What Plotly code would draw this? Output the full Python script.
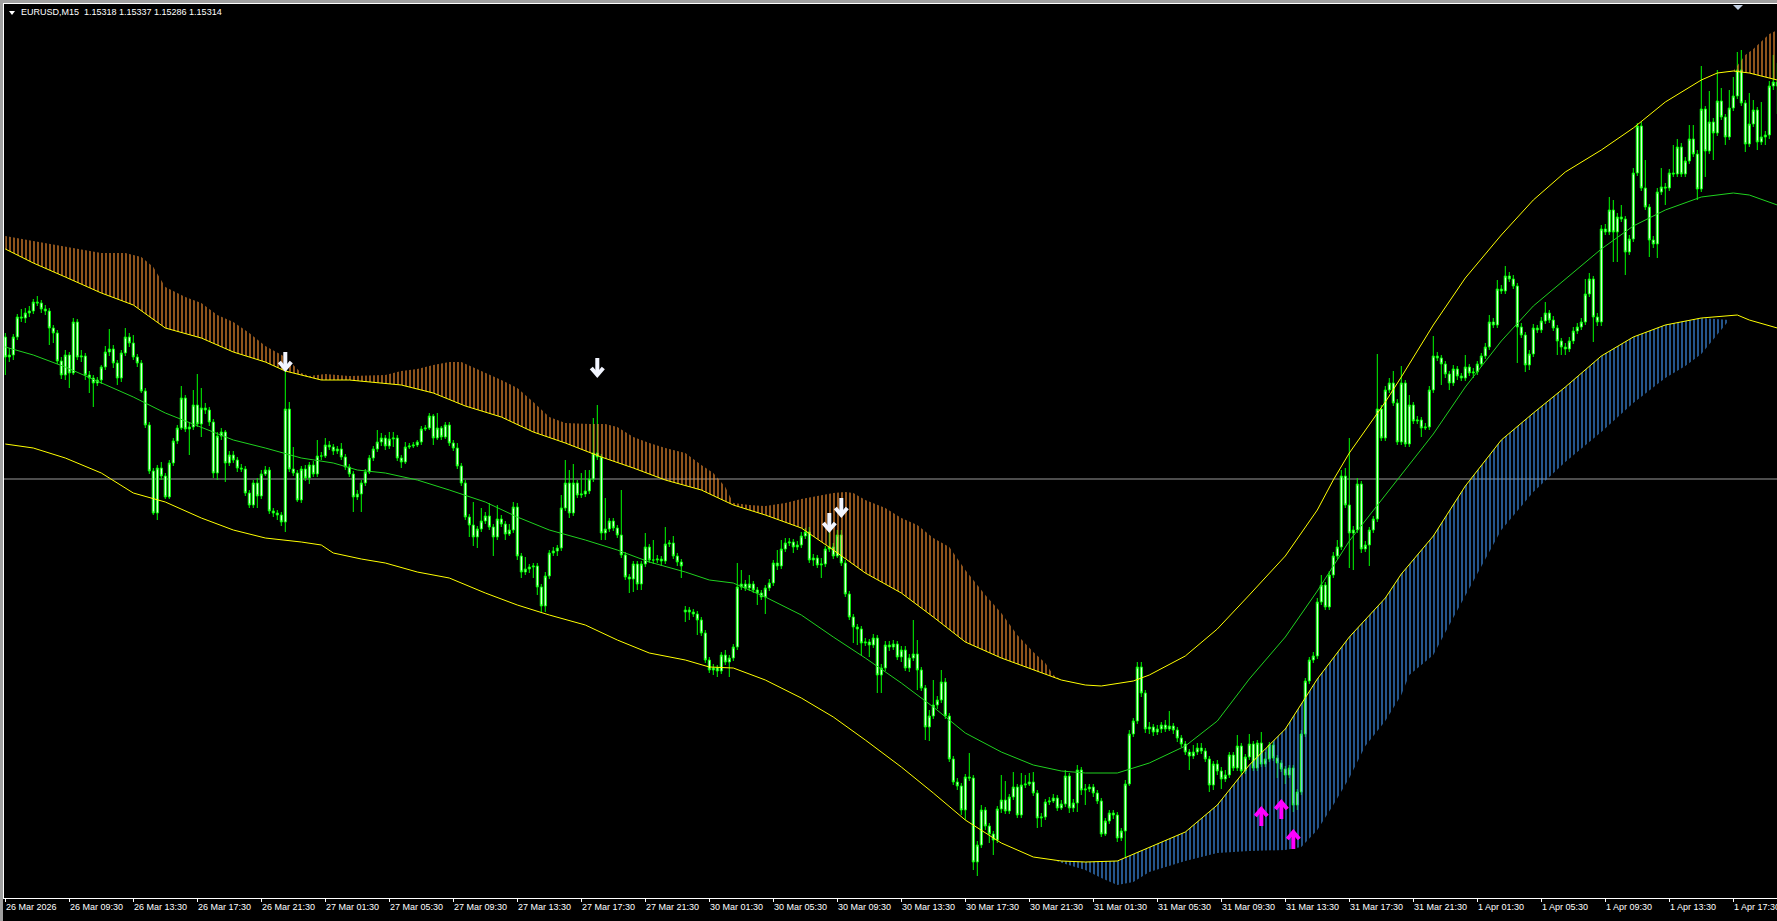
import plotly.graph_objects as go

# ---------------- data ----------------
SYMBOL = "EURUSD,M15"
time_labels = ["26 Mar 2026", "26 Mar 09:30", "26 Mar 13:30", "26 Mar 17:30", "26 Mar 21:30",
               "27 Mar 01:30", "27 Mar 05:30", "27 Mar 09:30", "27 Mar 13:30", "27 Mar 17:30",
               "27 Mar 21:30", "30 Mar 01:30", "30 Mar 05:30", "30 Mar 09:30", "30 Mar 13:30",
               "30 Mar 17:30", "30 Mar 21:30", "31 Mar 01:30", "31 Mar 05:30", "31 Mar 09:30",
               "31 Mar 13:30", "31 Mar 17:30", "31 Mar 21:30", "1 Apr 01:30", "1 Apr 05:30",
               "1 Apr 09:30", "1 Apr 13:30", "1 Apr 17:30"]
label_bars = [0, 16, 32, 48, 64, 80, 96, 112, 128, 144, 160, 176, 192, 208, 224, 240,
              256, 272, 288, 304, 320, 336, 352, 368, 384, 400, 416, 432]

first_open = 1.15063
gap_opens = {170: 1.14788}   # Monday session open after the weekend gap

closes = [
 1.15043,1.15045,1.15063,1.15083,1.15082,1.15087,1.15089,1.15098,1.15097,1.15091,
 1.15089,1.15072,1.15067,1.15039,1.15025,1.15045,1.15027,1.15078,1.15043,1.15044,
 1.15025,1.15022,1.15017,1.15020,1.15033,1.15048,1.15051,1.15037,1.15022,1.15047,
 1.15063,1.15057,1.15043,1.15037,1.15009,1.14975,1.14929,1.14887,1.14932,1.14924,
 1.14903,1.14937,1.14959,1.14972,1.15002,1.14971,1.14973,1.14995,1.14976,1.14992,
 1.14990,1.14978,1.14927,1.14964,1.14968,1.14937,1.14945,1.14940,1.14932,1.14931,
 1.14907,1.14895,1.14917,1.14904,1.14926,1.14930,1.14889,1.14887,1.14885,1.14878,
 1.14991,1.14931,1.14927,1.14900,1.14931,1.14922,1.14935,1.14926,1.14944,1.14944,
 1.14955,1.14953,1.14949,1.14951,1.14943,1.14933,1.14926,1.14903,1.14906,1.14917,
 1.14928,1.14942,1.14951,1.14958,1.14962,1.14954,1.14961,1.14962,1.14942,1.14938,
 1.14953,1.14954,1.14955,1.14958,1.14971,1.14972,1.14984,1.14962,1.14972,1.14963,
 1.14975,1.14957,1.14952,1.14934,1.14917,1.14883,1.14875,1.14863,1.14871,1.14879,
 1.14884,1.14873,1.14863,1.14881,1.14876,1.14866,1.14870,1.14893,1.14844,1.14828,
 1.14831,1.14833,1.14834,1.14813,1.14794,1.14824,1.14847,1.14849,1.14852,1.14892,
 1.14917,1.14887,1.14917,1.14905,1.14906,1.14909,1.14921,1.14947,1.14943,1.14867,
 1.14871,1.14879,1.14872,1.14865,1.14845,1.14823,1.14821,1.14836,1.14816,1.14836,
 1.14853,1.14840,1.14840,1.14841,1.14839,1.14856,1.14857,1.14844,1.14838,1.14834,
 1.14790,1.14788,1.14786,1.14780,1.14767,1.14740,1.14730,1.14732,1.14729,1.14745,
 1.14738,1.14742,1.14753,1.14813,1.14816,1.14812,1.14816,1.14810,1.14807,1.14803,
 1.14812,1.14817,1.14837,1.14834,1.14851,1.14857,1.14858,1.14853,1.14855,1.14864,
 1.14868,1.14840,1.14842,1.14835,1.14836,1.14851,1.14853,1.14844,1.14865,1.14837,
 1.14806,1.14783,1.14773,1.14771,1.14757,1.14758,1.14755,1.14762,1.14725,1.14732,
 1.14755,1.14753,1.14756,1.14743,1.14750,1.14732,1.14742,1.14746,1.14730,1.14712,
 1.14673,1.14684,1.14695,1.14700,1.14718,1.14684,1.14641,1.14618,1.14614,1.14590,
 1.14623,1.14622,1.14538,1.14555,1.14590,1.14574,1.14566,1.14560,1.14591,1.14600,
 1.14589,1.14603,1.14613,1.14585,1.14615,1.14616,1.14618,1.14607,1.14582,1.14583,
 1.14598,1.14599,1.14602,1.14592,1.14596,1.14624,1.14592,1.14597,1.14630,1.14610,
 1.14611,1.14613,1.14607,1.14599,1.14566,1.14579,1.14587,1.14585,1.14562,1.14569,
 1.14616,1.14666,1.14679,1.14733,1.14707,1.14671,1.14673,1.14668,1.14671,1.14675,
 1.14671,1.14674,1.14670,1.14662,1.14656,1.14648,1.14644,1.14648,1.14652,1.14649,
 1.14641,1.14615,1.14636,1.14629,1.14621,1.14625,1.14645,1.14632,1.14654,1.14629,
 1.14643,1.14656,1.14632,1.14657,1.14636,1.14641,1.14655,1.14642,1.14637,1.14631,
 1.14625,1.14632,1.14595,1.14608,1.14666,1.14719,1.14740,1.14744,1.14798,1.14815,
 1.14793,1.14825,1.14844,1.14853,1.14924,1.14895,1.14867,1.14870,1.14916,1.14851,
 1.14855,1.14870,1.14881,1.14991,1.14962,1.15010,1.15017,1.14997,1.14958,1.15017,
 1.14956,1.14995,1.14979,1.14980,1.14972,1.14973,1.15010,1.15044,1.15042,1.15036,
 1.15026,1.15017,1.15031,1.15024,1.15022,1.15033,1.15027,1.15028,1.15036,1.15044,
 1.15053,1.15078,1.15075,1.15111,1.15109,1.15124,1.15121,1.15114,1.15073,1.15065,
 1.15035,1.15046,1.15072,1.15070,1.15079,1.15087,1.15080,1.15072,1.15059,1.15053,
 1.15051,1.15059,1.15069,1.15073,1.15078,1.15106,1.15121,1.15083,1.15078,1.15171,
 1.15168,1.15190,1.15168,1.15183,1.15181,1.15148,1.15161,1.15227,1.15274,1.15212,
 1.15193,1.15160,1.15156,1.15208,1.15213,1.15212,1.15227,1.15226,1.15253,1.15226,
 1.15239,1.15261,1.15246,1.15211,1.15291,1.15249,1.15278,1.15267,1.15299,1.15283,
 1.15263,1.15292,1.15304,1.15330,1.15297,1.15256,1.15276,1.15290,1.15258,1.15263,
 1.15265,1.15314,1.15318,1.15314]

highs = [
 1.15067,1.15052,1.15066,1.15086,1.15091,1.15092,1.15094,1.15101,1.15104,1.15100,
 1.15095,1.15092,1.15075,1.15070,1.15043,1.15050,1.15048,1.15082,1.15081,1.15050,
 1.15047,1.15029,1.15025,1.15023,1.15035,1.15054,1.15071,1.15055,1.15040,1.15050,
 1.15072,1.15067,1.15065,1.15046,1.15040,1.15012,1.14978,1.14932,1.14935,1.14938,
 1.14927,1.14940,1.14962,1.14975,1.15014,1.15005,1.14978,1.15010,1.15026,1.15012,
 1.14997,1.14993,1.14981,1.14968,1.14972,1.14970,1.14949,1.14949,1.14943,1.14936,
 1.14934,1.14910,1.14920,1.14922,1.14930,1.14934,1.14933,1.14892,1.14890,1.14888,
 1.15047,1.14998,1.14953,1.14930,1.14934,1.14935,1.14938,1.14939,1.14960,1.14948,
 1.14962,1.14959,1.14956,1.14954,1.14957,1.14946,1.14936,1.14929,1.14910,1.14920,
 1.14931,1.14945,1.14954,1.14970,1.14967,1.14965,1.14968,1.14968,1.14965,1.14945,
 1.14958,1.14957,1.14958,1.14960,1.14974,1.14975,1.14987,1.14986,1.14987,1.14974,
 1.14978,1.14978,1.14960,1.14957,1.14937,1.14920,1.14886,1.14898,1.14874,1.14892,
 1.14888,1.14897,1.14876,1.14895,1.14885,1.14879,1.14876,1.14898,1.14897,1.14847,
 1.14843,1.14836,1.14837,1.14837,1.14816,1.14828,1.14850,1.14853,1.14855,1.14905,
 1.14940,1.14930,1.14936,1.14920,1.14927,1.14930,1.14930,1.14982,1.14995,1.14946,
 1.14902,1.14882,1.14882,1.14875,1.14910,1.14848,1.14826,1.14839,1.14839,1.14839,
 1.14867,1.14856,1.14860,1.14845,1.14844,1.14873,1.14860,1.14864,1.14847,1.14841,
 1.14794,1.14793,1.14791,1.14789,1.14783,1.14770,1.14743,1.14736,1.14735,1.14748,
 1.14750,1.14745,1.14756,1.14837,1.14830,1.14820,1.14825,1.14819,1.14813,1.14810,
 1.14815,1.14821,1.14840,1.14850,1.14860,1.14862,1.14862,1.14861,1.14859,1.14868,
 1.14872,1.14873,1.14846,1.14845,1.14842,1.14854,1.14868,1.14857,1.14870,1.14870,
 1.14840,1.14809,1.14786,1.14776,1.14774,1.14762,1.14761,1.14766,1.14765,1.14736,
 1.14759,1.14759,1.14760,1.14759,1.14754,1.14754,1.14746,1.14780,1.14760,1.14733,
 1.14715,1.14690,1.14720,1.14704,1.14730,1.14722,1.14687,1.14644,1.14622,1.14617,
 1.14626,1.14647,1.14625,1.14559,1.14595,1.14593,1.14577,1.14569,1.14594,1.14625,
 1.14619,1.14606,1.14628,1.14616,1.14627,1.14625,1.14627,1.14628,1.14610,1.14587,
 1.14601,1.14603,1.14606,1.14605,1.14600,1.14630,1.14627,1.14601,1.14635,1.14633,
 1.14616,1.14616,1.14616,1.14610,1.14602,1.14582,1.14590,1.14590,1.14588,1.14572,
 1.14620,1.14670,1.14682,1.14738,1.14738,1.14710,1.14678,1.14676,1.14675,1.14678,
 1.14680,1.14689,1.14677,1.14673,1.14665,1.14659,1.14651,1.14655,1.14657,1.14657,
 1.14652,1.14644,1.14639,1.14640,1.14633,1.14630,1.14648,1.14648,1.14665,1.14657,
 1.14646,1.14666,1.14659,1.14660,1.14668,1.14648,1.14658,1.14658,1.14645,1.14640,
 1.14634,1.14635,1.14635,1.14611,1.14670,1.14722,1.14743,1.14748,1.14802,1.14825,
 1.14818,1.14829,1.14848,1.14860,1.14930,1.14932,1.14962,1.14874,1.14922,1.14919,
 1.14859,1.14873,1.14884,1.15046,1.14995,1.15014,1.15022,1.15029,1.15001,1.15034,
 1.15020,1.15005,1.14998,1.14984,1.14983,1.14977,1.15014,1.15064,1.15048,1.15045,
 1.15039,1.15029,1.15035,1.15034,1.15027,1.15045,1.15036,1.15032,1.15039,1.15047,
 1.15057,1.15085,1.15082,1.15120,1.15115,1.15134,1.15128,1.15125,1.15117,1.15077,
 1.15068,1.15050,1.15076,1.15075,1.15083,1.15098,1.15090,1.15084,1.15075,1.15062,
 1.15057,1.15063,1.15073,1.15077,1.15082,1.15121,1.15127,1.15124,1.15087,1.15175,
 1.15176,1.15203,1.15200,1.15187,1.15195,1.15184,1.15165,1.15232,1.15277,1.15278,
 1.15240,1.15196,1.15164,1.15212,1.15232,1.15217,1.15231,1.15255,1.15261,1.15257,
 1.15243,1.15275,1.15275,1.15250,1.15334,1.15294,1.15309,1.15282,1.15330,1.15312,
 1.15286,1.15310,1.15323,1.15348,1.15350,1.15300,1.15307,1.15300,1.15293,1.15298,
 1.15269,1.15319,1.15345,1.15337]

lows = [
 1.15025,1.15038,1.15040,1.15060,1.15078,1.15077,1.15083,1.15086,1.15094,1.15087,
 1.15085,1.15055,1.15057,1.15036,1.15021,1.15020,1.15012,1.15025,1.15040,1.15038,
 1.15020,1.15007,1.14993,1.15014,1.15016,1.15030,1.15044,1.15032,1.15015,1.15018,
 1.15044,1.15053,1.15040,1.15033,1.15007,1.14972,1.14926,1.14885,1.14880,1.14920,
 1.14901,1.14901,1.14934,1.14956,1.14970,1.14968,1.14945,1.14970,1.14973,1.14963,
 1.14986,1.14974,1.14922,1.14920,1.14960,1.14918,1.14934,1.14937,1.14928,1.14928,
 1.14904,1.14892,1.14892,1.14892,1.14901,1.14924,1.14886,1.14883,1.14880,1.14874,
 1.14868,1.14928,1.14924,1.14898,1.14897,1.14919,1.14916,1.14923,1.14923,1.14940,
 1.14942,1.14950,1.14945,1.14946,1.14940,1.14930,1.14923,1.14888,1.14900,1.14888,
 1.14914,1.14926,1.14939,1.14948,1.14954,1.14950,1.14951,1.14953,1.14939,1.14932,
 1.14936,1.14951,1.14952,1.14953,1.14955,1.14969,1.14970,1.14955,1.14960,1.14960,
 1.14961,1.14954,1.14949,1.14931,1.14914,1.14880,1.14863,1.14854,1.14852,1.14868,
 1.14876,1.14870,1.14844,1.14860,1.14873,1.14860,1.14864,1.14867,1.14840,1.14822,
 1.14825,1.14827,1.14822,1.14805,1.14788,1.14788,1.14821,1.14844,1.14844,1.14849,
 1.14889,1.14882,1.14884,1.14902,1.14902,1.14903,1.14906,1.14918,1.14940,1.14860,
 1.14860,1.14868,1.14869,1.14862,1.14842,1.14820,1.14807,1.14808,1.14810,1.14810,
 1.14833,1.14837,1.14836,1.14837,1.14834,1.14836,1.14853,1.14841,1.14834,1.14822,
 1.14778,1.14780,1.14783,1.14765,1.14764,1.14737,1.14727,1.14725,1.14723,1.14726,
 1.14735,1.14723,1.14739,1.14750,1.14810,1.14809,1.14809,1.14807,1.14795,1.14800,
 1.14786,1.14809,1.14814,1.14830,1.14831,1.14848,1.14854,1.14847,1.14850,1.14852,
 1.14861,1.14837,1.14834,1.14832,1.14822,1.14833,1.14848,1.14841,1.14842,1.14834,
 1.14803,1.14780,1.14757,1.14755,1.14745,1.14754,1.14743,1.14752,1.14707,1.14707,
 1.14729,1.14749,1.14750,1.14740,1.14738,1.14729,1.14728,1.14739,1.14710,1.14709,
 1.14660,1.14659,1.14681,1.14691,1.14697,1.14681,1.14638,1.14615,1.14610,1.14585,
 1.14580,1.14619,1.14530,1.14524,1.14552,1.14570,1.14557,1.14545,1.14557,1.14587,
 1.14586,1.14586,1.14600,1.14582,1.14582,1.14612,1.14614,1.14604,1.14572,1.14573,
 1.14580,1.14595,1.14597,1.14589,1.14590,1.14593,1.14587,1.14588,1.14588,1.14605,
 1.14595,1.14608,1.14603,1.14596,1.14563,1.14564,1.14576,1.14581,1.14558,1.14559,
 1.14543,1.14614,1.14663,1.14676,1.14703,1.14667,1.14666,1.14664,1.14665,1.14667,
 1.14668,1.14669,1.14666,1.14658,1.14653,1.14645,1.14630,1.14641,1.14645,1.14646,
 1.14638,1.14608,1.14610,1.14625,1.14611,1.14618,1.14622,1.14629,1.14629,1.14625,
 1.14626,1.14640,1.14629,1.14629,1.14633,1.14633,1.14638,1.14639,1.14622,1.14628,
 1.14616,1.14622,1.14588,1.14590,1.14605,1.14663,1.14716,1.14737,1.14741,1.14795,
 1.14790,1.14790,1.14822,1.14841,1.14850,1.14892,1.14832,1.14830,1.14867,1.14847,
 1.14848,1.14834,1.14867,1.14878,1.14959,1.14959,1.15007,1.14994,1.14955,1.14955,
 1.14953,1.14953,1.14976,1.14976,1.14963,1.14970,1.14970,1.15007,1.15039,1.15015,
 1.15022,1.15010,1.15014,1.15020,1.15019,1.15019,1.15024,1.15022,1.15025,1.15033,
 1.15041,1.15050,1.15072,1.15072,1.15106,1.15106,1.15118,1.15111,1.15037,1.15062,
 1.15028,1.15030,1.15043,1.15067,1.15067,1.15076,1.15077,1.15069,1.15045,1.15045,
 1.15045,1.15048,1.15056,1.15066,1.15070,1.15075,1.15103,1.15058,1.15074,1.15074,
 1.15165,1.15165,1.15138,1.15138,1.15178,1.15125,1.15145,1.15158,1.15224,1.15209,
 1.15190,1.15143,1.15152,1.15142,1.15205,1.15195,1.15209,1.15223,1.15223,1.15223,
 1.15223,1.15236,1.15243,1.15200,1.15208,1.15223,1.15246,1.15240,1.15264,1.15280,
 1.15255,1.15260,1.15289,1.15301,1.15294,1.15248,1.15253,1.15273,1.15250,1.15255,
 1.15255,1.15261,1.15310,1.15286]

# envelope indicator (sampled bars)
upper_x = [0,7,15,24,32,40,49,57,65,70,79,86,99,107,115,124,132,140,149,157,165,174,182,190,
           199,207,215,224,232,240,249,257,264,270,274,282,286,295,303,311,320,328,332,336,345,
           349,357,365,374,382,390,399,407,415,424,428,432,436,443]
upper_y = [1.15151,1.15137,1.15123,1.15107,1.15095,1.15072,1.15062,1.15048,1.15038,1.15029,
           1.15020,1.15020,1.15015,1.15007,1.14994,1.14983,1.14968,1.14957,1.14943,1.14932,
           1.14920,1.14910,1.14895,1.14885,1.14872,1.14850,1.14827,1.14807,1.14783,1.14758,
           1.14742,1.14730,1.14720,1.14715,1.14714,1.14719,1.14725,1.14744,1.14771,1.14805,
           1.14844,1.14890,1.14920,1.14947,1.14998,1.15023,1.15075,1.15122,1.15165,1.15200,
           1.15228,1.15250,1.15272,1.15298,1.15320,1.15327,1.15329,1.15327,1.15320]
mid_x = [0,7,15,24,32,40,49,57,65,74,82,88,95,103,111,120,128,136,145,153,161,170,176,182,190,
         199,207,215,224,232,240,249,257,264,270,278,286,295,303,311,320,328,336,345,349,357,
         365,374,382,390,399,407,415,424,432,436,443]
mid_y = [1.15053,1.15045,1.15033,1.15017,1.15003,1.14987,1.14973,1.14960,1.14952,1.14942,
         1.14937,1.14930,1.14927,1.14920,1.14910,1.14898,1.14883,1.14870,1.14860,1.14850,
         1.14838,1.14828,1.14820,1.14817,1.14803,1.14785,1.14763,1.14742,1.14717,1.14693,
         1.14667,1.14648,1.14635,1.14629,1.14627,1.14627,1.14637,1.14654,1.14679,1.14721,
         1.14763,1.14809,1.14859,1.14905,1.14925,1.14966,1.15013,1.15059,1.15094,1.15121,
         1.15151,1.15174,1.15190,1.15203,1.15207,1.15205,1.15195]
lower_x = [0,7,15,24,32,40,49,57,65,74,79,82,89,95,103,111,120,128,136,145,153,161,170,176,182,
           190,199,207,215,224,232,240,249,257,264,270,278,286,295,303,311,320,328,336,345,349,
           357,365,374,382,390,399,407,415,424,433,436,443]
lower_y = [1.14956,1.14952,1.14942,1.14927,1.14907,1.14898,1.14882,1.14870,1.14862,1.14858,
           1.14855,1.14847,1.14841,1.14837,1.14828,1.14822,1.14807,1.14795,1.14785,1.14775,
           1.14760,1.14747,1.14740,1.14733,1.14732,1.14720,1.14702,1.14683,1.14660,1.14633,
           1.14607,1.14580,1.14557,1.14543,1.14539,1.14538,1.14539,1.14553,1.14568,1.14595,
           1.14635,1.14671,1.14721,1.14763,1.14802,1.14826,1.14864,1.14914,1.14960,1.14987,
           1.15013,1.15044,1.15063,1.15075,1.15082,1.15085,1.15080,1.15072]
# histogram extents (sell pressure above the upper band, buy pressure below the lower band)
sell_hist1_x = [0,7,15,24,30,34,37,40,45,49,53,57,61,65,70,74,76,80,86,95,99,103,107,111,114,
                120,124,128,132,136,140,146,150,153,157,161,165,170,174,177,180,182,186,190,195,
                199,203,207,210,212,215,220,224,228,232,236,240,245,249,253,257,260,262]
sell_hist1_y = [1.15164,1.15159,1.15153,1.15147,1.15147,1.15143,1.15133,1.15113,1.15103,1.15097,
                1.15085,1.15078,1.15067,1.15054,1.15043,1.15027,1.15024,1.15026,1.15024,1.15025,
                1.15029,1.15031,1.15035,1.15038,1.15038,1.15027,1.15020,1.15012,1.14998,1.14983,
                1.14977,1.14976,1.14976,1.14973,1.14963,1.14957,1.14952,1.14947,1.14935,1.14927,
                1.14913,1.14897,1.14895,1.14894,1.14897,1.14901,1.14904,1.14907,1.14908,1.14907,
                1.14900,1.14892,1.14882,1.14875,1.14862,1.14853,1.14830,1.14805,1.14787,1.14765,
                1.14748,1.14737,1.14725]
sell_hist2_x = [432,435,437,439,441,443]
sell_hist2_y = [1.15329,1.15345,1.15351,1.15358,1.15366,1.15370]
buy_hist_x = [262,265,270,274,278,282,286,295,303,311,320,324,328,332,336,340,345,349,351,357,
              361,365,374,382,390,399,407,415,420,424,428,431]
buy_hist_y = [1.14540,1.14536,1.14530,1.14522,1.14515,1.14518,1.14528,1.14539,1.14547,1.14549,
              1.14550,1.14553,1.14570,1.14595,1.14622,1.14654,1.14679,1.14705,1.14725,1.14745,
              1.14775,1.14805,1.14870,1.14908,1.14938,1.14968,1.14997,1.15022,1.15034,1.15046,
              1.15065,1.15080]
sell_segments = [(0, 264), (432, 443)]
buy_segment = (262, 432)

# signal arrows
sell_bars = [70, 148, 206, 209]
sell_prices = [1.15040, 1.15034, 1.14879, 1.14894]
buy_bars = [314, 319, 322]
buy_prices = [1.14582, 1.14589, 1.14559]

level_line = 1.14921

# ---------------- layout constants ----------------
W, H = 1777, 921
ML, MR, MT, MB = 4, 0, 4, 23
PW, PH = W - ML - MR, H - MT - MB
X0 = -0.325
X1 = X0 + PW / 4.0
Y0, Y1 = 1.14502, 1.15396
BAR_PER_PX = (X1 - X0) / PW
PRICE_PER_PX = (Y1 - Y0) / PH

BG = "#000000"
CANDLE = "#00ff00"
YELLOW = "#ffff00"
MIDC = "#1fd21f"
ORANGE = "#f08c2e"
BLUE = "#3d8ee8"
WHITE = "#ffffff"
FONT = "Liberation Sans"

n = len(closes)
bars = list(range(n))
opens = [first_open] + closes[:-1]
for b, o in gap_opens.items():
    opens[b] = o

fig = go.Figure()


def band_slice(xs, ys, lo, hi):
    sel = [(x, y) for x, y in zip(xs, ys) if lo <= x <= hi]
    return [p[0] for p in sel], [p[1] for p in sel]


def hist_poly(bx, by, hx, hy, color):
    fig.add_trace(go.Scatter(
        x=bx + hx[::-1], y=by + hy[::-1], mode="lines", fill="toself",
        line=dict(width=0, color="rgba(0,0,0,0)"), fillcolor="rgba(0,0,0,0)",
        fillpattern=dict(shape="|", fgcolor=color, bgcolor="rgba(0,0,0,0)",
                         size=4, solidity=0.3, fillmode="replace"),
        hoverinfo="skip", showlegend=False))


bx, by = band_slice(upper_x, upper_y, *sell_segments[0])
hist_poly(bx, by, sell_hist1_x, sell_hist1_y, ORANGE)
bx, by = band_slice(upper_x, upper_y, *sell_segments[1])
hist_poly(bx, by, sell_hist2_x, sell_hist2_y, ORANGE)
bx, by = band_slice(lower_x, lower_y, *buy_segment)
hist_poly(bx, by, buy_hist_x, buy_hist_y, BLUE)

for xs, ys, col in [(upper_x, upper_y, YELLOW), (lower_x, lower_y, YELLOW), (mid_x, mid_y, MIDC)]:
    fig.add_trace(go.Scatter(x=xs, y=ys, mode="lines", line=dict(color=col, width=1),
                             hoverinfo="skip", showlegend=False))

fig.add_trace(go.Candlestick(
    x=bars, open=opens, high=highs, low=lows, close=closes,
    increasing=dict(line=dict(color=CANDLE, width=1), fillcolor=WHITE),
    decreasing=dict(line=dict(color=CANDLE, width=1), fillcolor=WHITE),
    whiskerwidth=0, hoverinfo="skip", showlegend=False))


def arrow_path(bs, ps, direction):
    xs, ys = [], []
    for b, p in zip(bs, ps):
        d = direction
        tip = p + d * 9 * PRICE_PER_PX
        tail = p - d * 8 * PRICE_PER_PX
        arm = tip - d * 7 * PRICE_PER_PX
        xs += [b, b, None, b - 6 * BAR_PER_PX, b, b + 6 * BAR_PER_PX, None]
        ys += [tail, tip - d * 1 * PRICE_PER_PX, None, arm, tip, arm, None]
    return xs, ys


ax, ay = arrow_path(sell_bars, sell_prices, -1)
fig.add_trace(go.Scatter(x=ax, y=ay, mode="lines", line=dict(color="#f2f5ff", width=4),
                         hoverinfo="skip", showlegend=False))
ax, ay = arrow_path(buy_bars, buy_prices, 1)
fig.add_trace(go.Scatter(x=ax, y=ay, mode="lines", line=dict(color="#ff00ff", width=4),
                         hoverinfo="skip", showlegend=False))


def pxx(px):
    return (px - ML) / PW


def pxy(py):
    return 1 - (py - MT) / PH


shapes = [
    dict(type="line", xref="paper", yref="y", x0=0, x1=1, y0=level_line, y1=level_line,
         line=dict(color="#9a9a9a", width=1), layer="below"),
    dict(type="rect", xref="paper", yref="paper", x0=pxx(0), x1=pxx(3), y0=pxy(H), y1=pxy(0),
         fillcolor="#a0a0a0", line=dict(width=0)),
    dict(type="rect", xref="paper", yref="paper", x0=pxx(0), x1=pxx(W), y0=pxy(3), y1=pxy(0),
         fillcolor="#a0a0a0", line=dict(width=0)),
    dict(type="path", xref="paper", yref="paper",
         path=f"M {pxx(9)} {pxy(11)} L {pxx(15)} {pxy(11)} L {pxx(12)} {pxy(15)} Z",
         fillcolor=WHITE, line=dict(width=0)),
    dict(type="path", xref="paper", yref="paper",
         path=f"M {pxx(1733)} {pxy(5)} L {pxx(1743)} {pxy(5)} L {pxx(1738)} {pxy(10)} Z",
         fillcolor="#c0cde0", line=dict(width=0)),
]

o, h, l, c = opens[-1], highs[-1], lows[-1], closes[-1]
annotations = [dict(xref="paper", yref="paper", x=pxx(19), y=pxy(12), xanchor="left",
                    yanchor="middle", showarrow=False,
                    text=f"{SYMBOL}&nbsp;&nbsp;{o:.5f} {h:.5f} {l:.5f} {c:.5f}",
                    font=dict(family=FONT, size=9, color=WHITE))]
for b, t in zip(label_bars, time_labels):
    annotations.append(dict(xref="x", yref="paper", x=b, y=0, xanchor="left", yanchor="middle",
                            yshift=-9, xshift=-1, showarrow=False, text=t,
                            font=dict(family=FONT, size=9, color=WHITE)))

fig.update_layout(
    width=W, height=H, margin=dict(l=ML, r=MR, t=MT, b=MB, pad=0),
    paper_bgcolor=BG, plot_bgcolor=BG, showlegend=False, hovermode=False,
    boxgap=0.25,
    font=dict(family=FONT, color=WHITE, size=9),
    xaxis=dict(range=[X0, X1], showgrid=False, zeroline=False, showline=True, linecolor=WHITE,
               linewidth=1, mirror=True, ticks="outside", ticklen=3, tickcolor=WHITE,
               tickvals=label_bars, showticklabels=False, rangeslider=dict(visible=False),
               fixedrange=True),
    yaxis=dict(range=[Y0, Y1], showgrid=False, zeroline=False, showline=True, linecolor=WHITE,
               linewidth=1, mirror=True, showticklabels=False, ticks="", fixedrange=True),
    shapes=shapes, annotations=annotations,
)

fig.write_html("out.html", config={"displayModeBar": False},
               post_script="document.body.style.margin='0';document.body.style.overflow='hidden';")
